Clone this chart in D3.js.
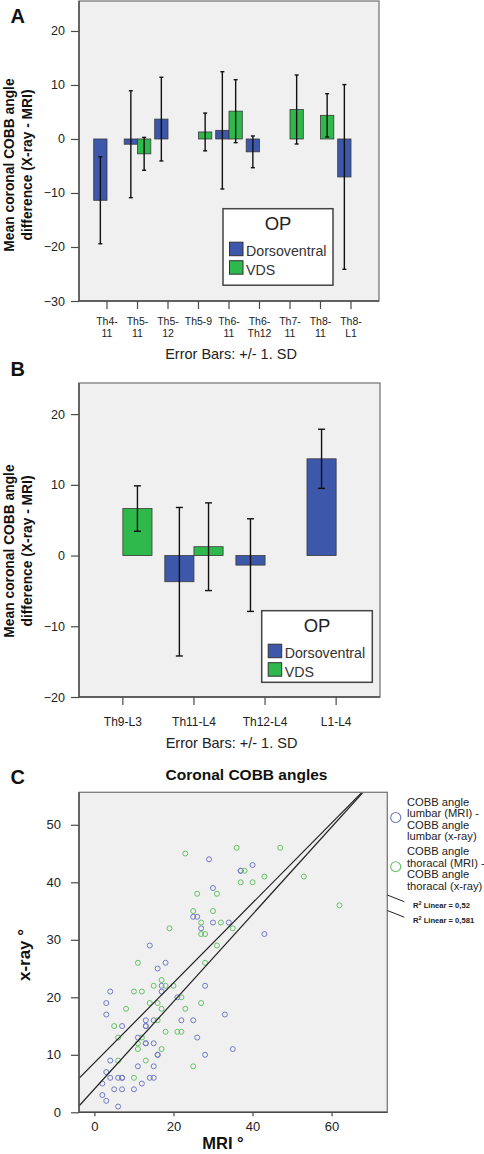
<!DOCTYPE html>
<html><head><meta charset="utf-8">
<script src="https://cdn.jsdelivr.net/npm/d3@7"></script>
<style>
html,body{margin:0;padding:0;background:#fff;}
svg{display:block;font-family:"Liberation Sans",Arial,Helvetica,sans-serif;}
</style></head><body>
<svg id="chart" width="484" height="1154"></svg>
<script>
// ---------- Panel A data ----------
const catsA = ["Th4-11","Th5-11","Th5-12","Th5-9","Th6-11","Th6-Th12","Th7-11","Th8-11","Th8-L1"];
const tickLabelsA = [["Th4-","11"],["Th5-","11"],["Th5-","12"],["Th5-9"],["Th6-","11"],["Th6-","Th12"],["Th7-","11"],["Th8-","11"],["Th8-","L1"]];
const dorsoMeanA = [-11.35, -0.97, 3.68, null, 1.6, -2.38, null, null, -7.03];
const dorsoSdA   = [8.05, 9.9, 7.75, null, 10.86, 2.94, null, null, 17.1];
const vdsMeanA   = [null, -2.75, null, 1.3, 5.15, null, 5.46, 4.38, null];
const vdsSdA     = [null, 3.05, null, 3.5, 5.83, null, 6.39, 4.01, null];
const yTicksA = [-30, -20, -10, 0, 10, 20];

// ---------- Panel B data ----------
const catsB = ["Th9-L3","Th11-L4","Th12-L4","L1-L4"];
const tickLabelsB = [["Th9-L3"],["Th11-L4"],["Th12-L4"],["L1-L4"]];
const dorsoMeanB = [null, -3.7, -1.35, 13.68];
const dorsoSdB   = [null, 10.5, 6.55, 4.18];
const vdsMeanB   = [6.65, 1.25, null, null];
const vdsSdB     = [3.21, 6.2, null, null];
const yTicksB = [-20, -10, 0, 10, 20];

const seriesNames = ["Dorsoventral", "VDS"];

// ---------- Panel C data ----------
const lumbarMRI  = [29,40,37,37,30,25,26,30,34,27,43,14,18,16,17,28,17,4,21,3,3,33,13,15,22,25,7,13,13,11,26,13,13,15,16,16,28,35,4,11,15,3,4,6,7,7,14,15,2,12,5,7,10,2,3,6];
const lumbarXray = [44,43,42,42,39,34,34,33,33,32,31,29,26,25,22,22,21,21,20,19,17,17,16,16,16,16,15,15,15,13,13,12,12,12,10,10,10,11,9,8,8,7,6,6,6,6,6,6,5,5,4,4,4,3,2,1];
const thorMRI  = [23,36,47,38,37,40,43,53,26,31,62,25,30,27,32,19,35,27,28,31,11,28,17,15,18,20,10,12,22,14,16,27,8,17,23,16,5,18,21,22,6,12,11,11,17,6,13,25,10];
const thorXray = [45,46,46,42,40,40,41,41,38,38,36,35,35,33,33,32,32,31,31,29,26,26,23,22,22,22,21,21,20,19,19,19,18,18,18,16,15,14,14,14,13,13,12,11,11,9,9,8,6];
const fitIntercepts = [8.6, 4.06];
const fitSlopes = [0.695, 0.759];
const r2Labels = ["0,52", "0,581"];
const xTicksC = [0, 20, 40, 60];
const yTicksC = [0, 10, 20, 30, 40, 50];
const legendC = [["COBB angle","lumbar (MRI) -","COBB angle","lumbar (x-ray)"],
                 ["COBB angle","thoracal (MRI) -","COBB angle","thoracal (x-ray)"]];

// ---------- styles ----------
const BLUE = "#3d57aa", GREEN = "#2fb84b";
const PT_BLUE = "#7179c4", PT_GREEN = "#66c266";
const BG = "#f0f0f0", FRAME = "#7a7a7a", AXIS = "#4a4a4a", TXT = "#222";

const svg = d3.select("#chart");

function styleAxis(g) {
  g.select(".domain").remove();
  g.selectAll(".tick line").attr("stroke", AXIS).attr("stroke-width", 1.2);
  g.selectAll(".tick text").attr("fill", TXT).attr("font-family", null);
}

function barPanel(o) {
  const g = svg.append("g");
  g.append("rect").attr("x", o.x0).attr("y", o.y0).attr("width", o.x1 - o.x0).attr("height", o.y1 - o.y0).attr("fill", BG);

  const x = d3.scaleBand().domain(o.cats).range([o.x0, o.x1]).paddingInner(0).paddingOuter(o.padOuter);
  const y = d3.scaleLinear().domain(o.yDomain).range([o.y1, o.y0]);
  const bw = x.step() * o.barFrac;

  const series = [
    {means: o.dM, sds: o.dS, color: BLUE, off: -1},
    {means: o.vM, sds: o.vS, color: GREEN, off: 0}
  ];
  series.forEach(s => {
    const data = o.cats.map((c, i) => ({c, m: s.means[i], sd: s.sds[i]})).filter(d => d.m != null);
    const cx = d => x(d.c) + x.bandwidth() / 2 + s.off * bw;
    g.selectAll(null).data(data).enter().append("rect")
      .attr("x", cx).attr("width", bw)
      .attr("y", d => y(Math.max(0, d.m)))
      .attr("height", d => Math.abs(y(d.m) - y(0)))
      .attr("fill", s.color).attr("stroke", "#3a3a3a").attr("stroke-width", 0.8);
    const eb = g.selectAll(null).data(data).enter().append("g").attr("stroke", "#111").attr("stroke-width", 1.4);
    eb.append("line").attr("x1", d => cx(d) + bw / 2).attr("x2", d => cx(d) + bw / 2)
      .attr("y1", d => y(d.m + d.sd)).attr("y2", d => y(d.m - d.sd));
    [1, -1].forEach(sg => {
      eb.append("line").attr("x1", d => cx(d) + bw / 2 - o.cap / 2).attr("x2", d => cx(d) + bw / 2 + o.cap / 2)
        .attr("y1", d => y(d.m + sg * d.sd)).attr("y2", d => y(d.m + sg * d.sd));
    });
  });

  // frame
  g.append("rect").attr("x", o.x0).attr("y", o.y0).attr("width", o.x1 - o.x0).attr("height", o.y1 - o.y0)
    .attr("fill", "none").attr("stroke", FRAME).attr("stroke-width", 1.3);
  g.append("line").attr("x1", o.x0).attr("x2", o.x0).attr("y1", o.y0).attr("y2", o.y1).attr("stroke", AXIS).attr("stroke-width", 1.4);
  g.append("line").attr("x1", o.x0).attr("x2", o.x1).attr("y1", o.y1).attr("y2", o.y1).attr("stroke", AXIS).attr("stroke-width", 1.4);

  // y axis
  const ya = g.append("g").attr("transform", `translate(${o.x0},0)`)
    .call(d3.axisLeft(y).tickValues(o.yTicks).tickSize(8).tickPadding(6).tickFormat(d3.format("d")));
  styleAxis(ya);
  ya.selectAll(".tick text").attr("font-size", 12.5);

  // x axis
  const xa = g.append("g").attr("transform", `translate(0,${o.y1})`)
    .call(d3.axisBottom(x).tickSize(8).tickFormat(""));
  styleAxis(xa);
  o.cats.forEach((c, i) => {
    const t = g.append("text").attr("x", x(c) + x.bandwidth() / 2).attr("y", o.labelBase)
      .attr("text-anchor", "middle").attr("font-size", o.tickFont).attr("fill", TXT);
    o.labels[i].forEach((ln, j) => t.append("tspan").attr("x", x(c) + x.bandwidth() / 2).attr("dy", j ? 12 : 0).text(ln));
  });
  g.append("text").attr("x", (o.x0 + o.x1) / 2 + 2).attr("y", o.errBase).attr("text-anchor", "middle")
    .attr("font-size", 14.5).attr("fill", TXT).text("Error Bars: +/- 1. SD");

  // y label
  const yl = g.append("g").attr("transform", `translate(0,${o.ylabY}) rotate(-90)`);
  yl.append("text").attr("x", 0).attr("y", 13.5).attr("text-anchor", "middle").attr("font-weight", "bold")
    .attr("font-size", 13.8).attr("fill", "#111").text("Mean coronal COBB angle");
  yl.append("text").attr("x", 0).attr("y", 31.5).attr("text-anchor", "middle").attr("font-weight", "bold")
    .attr("font-size", 13.8).attr("fill", "#111").text("difference (X-ray - MRI)");

  // legend
  const L = o.legend;
  const lg = g.append("g");
  lg.append("rect").attr("x", L.x).attr("y", L.y).attr("width", L.w).attr("height", L.h)
    .attr("fill", "#fff").attr("stroke", "#444").attr("stroke-width", 1.5);
  lg.append("text").attr("x", L.x + L.w / 2).attr("y", L.y + 21.5).attr("text-anchor", "middle")
    .attr("font-size", 18.5).attr("fill", "#222").text("OP");
  seriesNames.forEach((nm, i) => {
    lg.append("rect").attr("x", L.x + 6.5).attr("y", L.y + 33.5 + i * 18.5).attr("width", 13.5).attr("height", 13.5)
      .attr("fill", i ? GREEN : BLUE).attr("stroke", "#333").attr("stroke-width", 1);
    lg.append("text").attr("x", L.x + 23).attr("y", L.y + 47 + i * 18.8).attr("font-size", 14.2)
      .attr("fill", "#333").text(nm);
  });
}

barPanel({
  cats: catsA, labels: tickLabelsA, dM: dorsoMeanA, dS: dorsoSdA, vM: vdsMeanA, vS: vdsSdA,
  yDomain: [-30, 25.55], yTicks: yTicksA, x0: 79, x1: 379, y0: 1, y1: 301,
  padOuter: 0.418, barFrac: 0.436, cap: 4, tickFont: 10.5, labelBase: 325, errBase: 359,
  ylabY: 165, legend: {x: 223, y: 208.7, w: 110, h: 76.5}
});
barPanel({
  cats: catsB, labels: tickLabelsB, dM: dorsoMeanB, dS: dorsoSdB, vM: vdsMeanB, vS: vdsSdB,
  yDomain: [-20, 24.4], yTicks: yTicksB, x0: 79, x1: 380, y0: 383, y1: 697,
  padOuter: 0.117, barFrac: 0.41, cap: 7, tickFont: 12, labelBase: 726, errBase: 748,
  ylabY: 551, legend: {x: 261.7, y: 610.7, w: 110.6, h: 71.6}
});

// panel letters
[["A", 23], ["B", 376], ["C", 784]].forEach(([t, yb]) => {
  svg.append("text").attr("x", 10.5).attr("y", yb).attr("font-size", 20).attr("font-weight", "bold").attr("fill", "#111").text(t);
});

// ---------- Panel C ----------
(function () {
  const x0 = 79, x1 = 387.3, y0 = 792.3, y1 = 1112.3;
  const g = svg.append("g");
  g.append("rect").attr("x", x0).attr("y", y0).attr("width", x1 - x0).attr("height", y1 - y0).attr("fill", BG);
  const x = d3.scaleLinear().domain([-3.9, 74.1]).range([x0, x1]);
  const y = d3.scaleLinear().domain([0, 55.65]).range([y1, y0]);

  svg.append("defs").append("clipPath").attr("id", "clipC").append("rect")
    .attr("x", x0).attr("y", y0).attr("width", x1 - x0).attr("height", y1 - y0);

  const pts = [
    {mri: lumbarMRI, xr: lumbarXray, c: PT_BLUE},
    {mri: thorMRI, xr: thorXray, c: PT_GREEN}
  ];
  pts.forEach(s => {
    g.selectAll(null).data(s.mri.map((m, i) => [m, s.xr[i]])).enter().append("circle")
      .attr("cx", d => x(d[0])).attr("cy", d => y(d[1])).attr("r", 2.5)
      .attr("fill", "none").attr("stroke", s.c).attr("stroke-width", 1);
  });

  const lg = g.append("g").attr("clip-path", "url(#clipC)");
  fitIntercepts.forEach((b, i) => {
    const xs = x.domain();
    lg.append("line").attr("x1", x(xs[0])).attr("y1", y(b + fitSlopes[i] * xs[0]))
      .attr("x2", x(xs[1])).attr("y2", y(b + fitSlopes[i] * xs[1]))
      .attr("stroke", "#222").attr("stroke-width", 1.2);
  });

  g.append("rect").attr("x", x0).attr("y", y0).attr("width", x1 - x0).attr("height", y1 - y0)
    .attr("fill", "none").attr("stroke", FRAME).attr("stroke-width", 1.3);
  g.append("line").attr("x1", x0).attr("x2", x0).attr("y1", y0).attr("y2", y1).attr("stroke", AXIS).attr("stroke-width", 1.4);
  g.append("line").attr("x1", x0).attr("x2", x1).attr("y1", y1).attr("y2", y1).attr("stroke", AXIS).attr("stroke-width", 1.4);

  const ya = g.append("g").attr("transform", `translate(${x0},0)`)
    .call(d3.axisLeft(y).tickValues(yTicksC).tickSize(8).tickPadding(10));
  styleAxis(ya);
  ya.selectAll(".tick text").attr("font-size", 13);
  const xa = g.append("g").attr("transform", `translate(0,${y1})`)
    .call(d3.axisBottom(x).tickValues(xTicksC).tickSize(4).tickPadding(5));
  styleAxis(xa);
  xa.selectAll(".tick text").attr("font-size", 13).attr("dy", "0.75em");

  svg.append("text").attr("x", 246.5).attr("y", 780).attr("text-anchor", "middle").attr("font-weight", "bold")
    .attr("font-size", 15.5).attr("fill", "#111").text("Coronal COBB angles");
  svg.append("text").attr("x", 223).attr("y", 1149).attr("text-anchor", "middle").attr("font-weight", "bold")
    .attr("font-size", 16.5).attr("fill", "#111").text("MRI °");
  svg.append("text").attr("transform", "translate(30,955) rotate(-90)").attr("text-anchor", "middle")
    .attr("font-weight", "bold").attr("font-size", 17).attr("fill", "#111").text("x-ray °");

  // legend
  const colors = [PT_BLUE, PT_GREEN];
  legendC.forEach((lines, i) => {
    const top = 805.5 + i * 49.5;
    svg.append("circle").attr("cx", 395.7).attr("cy", top + 12 + i * -0.3).attr("r", 5)
      .attr("fill", "none").attr("stroke", colors[i]).attr("stroke-width", 1.1);
    lines.forEach((ln, j) => {
      svg.append("text").attr("x", 407).attr("y", top + j * 11.5).attr("font-size", 11.2)
        .attr("fill", "#222").text(ln);
    });
  });
  r2Labels.forEach((lab, i) => {
    const yb = 907.5 + i * 15.5;
    svg.append("line").attr("x1", x1).attr("y1", yb - 12.5).attr("x2", 404.3).attr("y2", yb - 5.8)
      .attr("stroke", "#222").attr("stroke-width", 1);
    const t = svg.append("text").attr("x", 413).attr("y", yb).attr("font-size", 7.6).attr("font-weight", "bold").attr("fill", "#222");
    t.append("tspan").text("R");
    t.append("tspan").attr("font-size", 5.5).attr("dy", -3).text("2");
    t.append("tspan").attr("dy", 3).text(" Linear = " + lab);
  });
})();
</script>
</body></html>
